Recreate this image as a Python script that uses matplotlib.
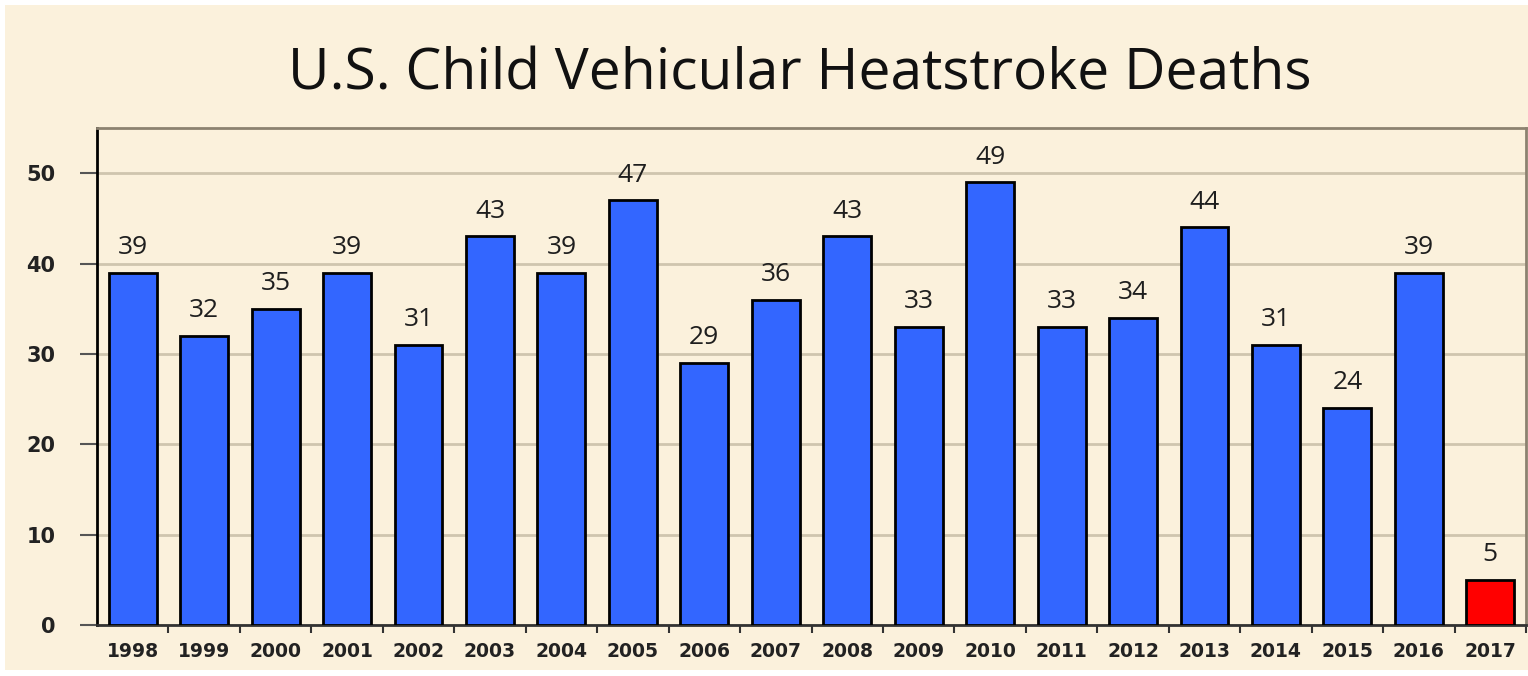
import matplotlib.pyplot as plt
from matplotlib.patches import Rectangle

years = ['1998', '1999', '2000', '2001', '2002', '2003', '2004', '2005', '2006', '2007',
         '2008', '2009', '2010', '2011', '2012', '2013', '2014', '2015', '2016', '2017']
deaths = [39, 32, 35, 39, 31, 43, 39, 47, 29, 36,
          43, 33, 49, 33, 34, 44, 31, 24, 39, 5]
bar_colors = ['#3366FF'] * 19 + ['#FF0000']

cream = '#FBF1DC'

fig = plt.figure(figsize=(15.28, 6.76), dpi=100)
fig.patch.set_facecolor('white')
fig.patches.append(Rectangle((5 / 1528, 6 / 676), 1523 / 1528, 665 / 676,
                             transform=fig.transFigure, facecolor=cream,
                             edgecolor='none', zorder=-1))

ax = fig.add_axes([97 / 1528, 1 - 625 / 676, 1429 / 1528, 497 / 676])
ax.set_facecolor(cream)

x = list(range(len(years)))
ax.bar(x, deaths, width=0.67, color=bar_colors, edgecolor='black', linewidth=2, zorder=3)

# value labels over the bars
for xi, v in zip(x, deaths):
    ax.text(xi, v + 1.4, str(v), ha='center', va='bottom', fontsize=19,
            family='Open Sans', color='#1e1e1e', zorder=4)

ax.set_xlim(-0.5, len(years) - 0.5)
ax.set_ylim(0, 55)
ax.set_yticks([0, 10, 20, 30, 40, 50])
ax.yaxis.grid(True, color='#CFC5AE', linewidth=2, zorder=1)
ax.set_axisbelow(True)

ax.set_xticks(x)
ax.set_xticklabels(years)
ax.set_xticks([i + 0.5 for i in x], minor=True)
ax.tick_params(axis='x', which='major', length=0, pad=12, labelsize=13.5)
ax.tick_params(axis='x', which='minor', length=6, width=1.5, direction='out', color='#333333')
ax.tick_params(axis='y', length=12, width=1.5, pad=18, labelsize=15, color='#555555')
for lab in ax.get_xticklabels() + ax.get_yticklabels():
    lab.set_fontweight('bold')
    lab.set_color('#222222')

ax.spines['left'].set_color('black')
ax.spines['left'].set_linewidth(2)
ax.spines['bottom'].set_color('#333333')
ax.spines['bottom'].set_linewidth(2)
ax.spines['top'].set_color('#8C8270')
ax.spines['top'].set_linewidth(2)
ax.spines['right'].set_color('#8C8270')
ax.spines['right'].set_linewidth(2)

fig.text(800 / 1528, 1 - 75 / 676, 'U.S. Child Vehicular Heatstroke Deaths',
         ha='center', va='center', fontsize=41, family='Open Sans', color='#111111')

fig.savefig('out.png', dpi=100, facecolor=fig.get_facecolor())
